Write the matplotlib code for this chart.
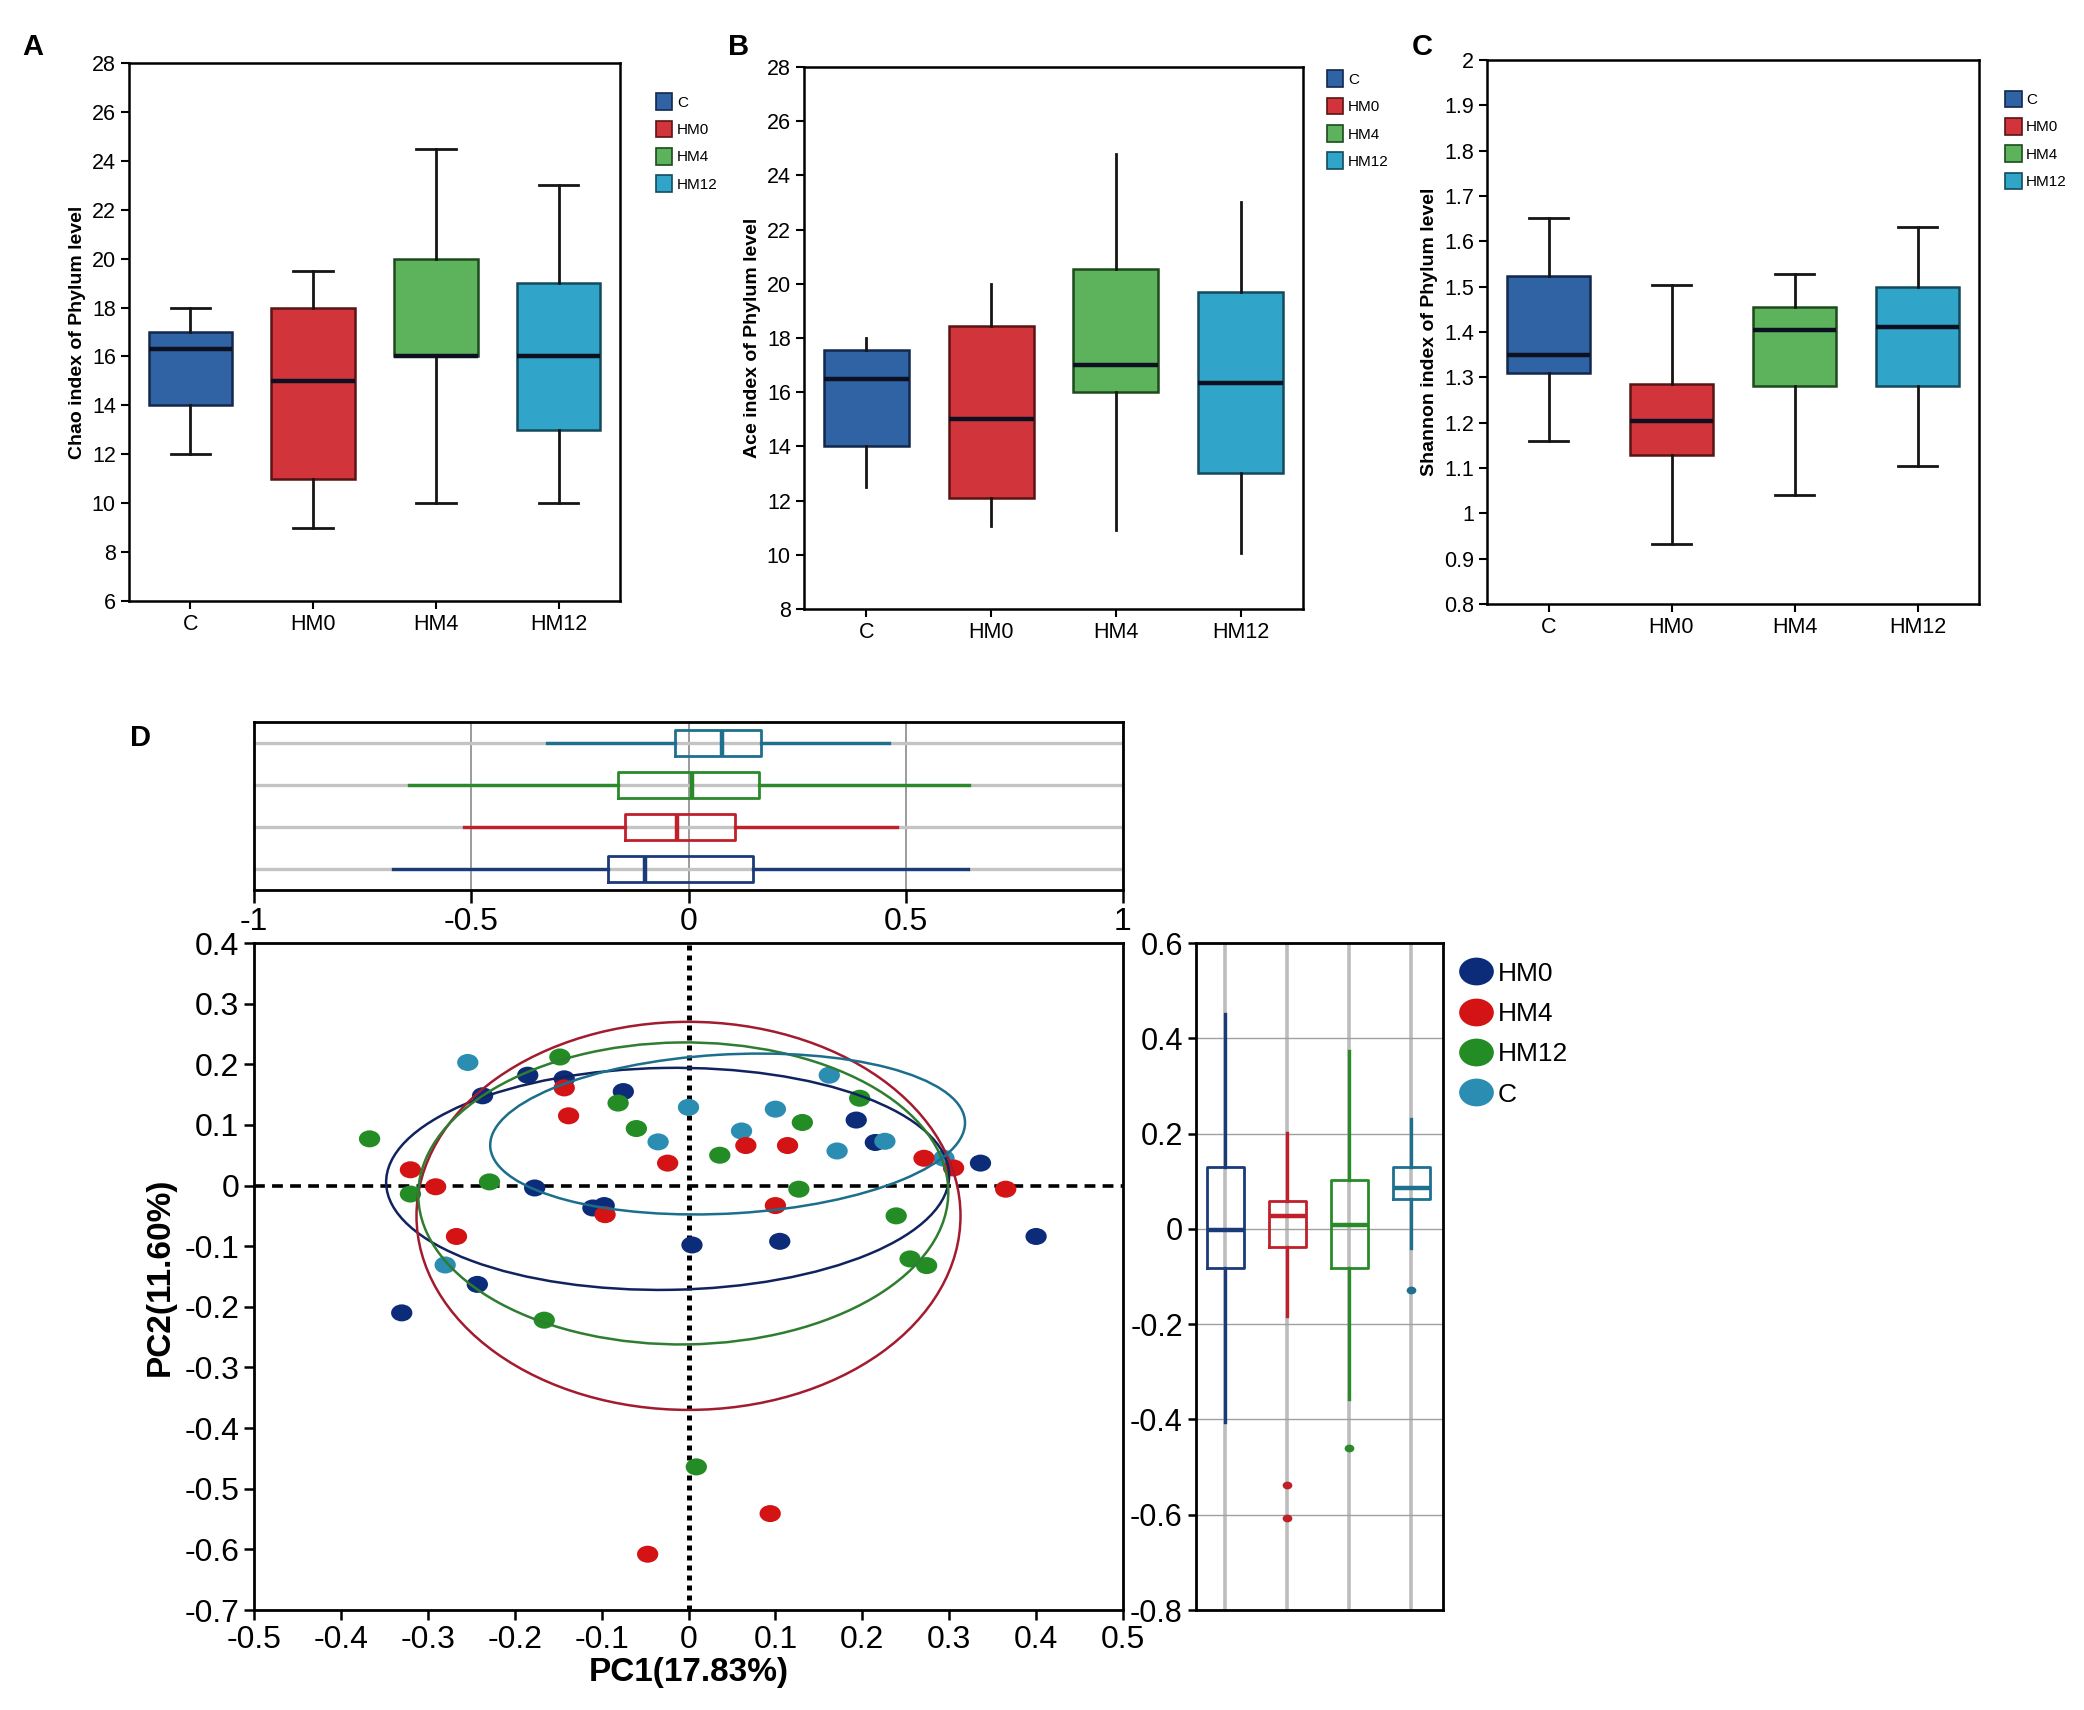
import matplotlib
matplotlib.use("Agg")
import matplotlib.pyplot as plt
from matplotlib.patches import Ellipse, Patch
from matplotlib.lines import Line2D
from matplotlib.path import Path
from matplotlib.ticker import FuncFormatter, MultipleLocator

plt.rcParams["font.family"] = ["Liberation Sans", "DejaVu Sans"]
plt.rcParams["axes.unicode_minus"] = False

# ---- panels A-C: alpha diversity boxplots ----
groups_abc = ["C", "HM0", "HM4", "HM12"]

chao_lo = [12.0, 9.0, 10.0, 10.0]
chao_q1 = [14.0, 11.0, 16.0, 13.0]
chao_med = [16.3, 15.0, 16.0, 16.0]
chao_q3 = [17.0, 18.0, 20.0, 19.0]
chao_hi = [18.0, 19.5, 24.5, 23.0]

ace_lo = [12.5, 11.05, 10.9, 10.05]
ace_q1 = [14.0, 12.1, 16.0, 13.0]
ace_med = [16.5, 15.0, 17.0, 16.35]
ace_q3 = [17.55, 18.45, 20.55, 19.7]
ace_hi = [18.0, 20.0, 24.8, 23.0]

shan_lo = [1.16, 0.933, 1.041, 1.105]
shan_q1 = [1.309, 1.129, 1.281, 1.281]
shan_med = [1.350, 1.203, 1.405, 1.411]
shan_q3 = [1.524, 1.286, 1.455, 1.499]
shan_hi = [1.651, 1.503, 1.529, 1.632]

# ---- panel D: PCA ----
groups_d = ["HM0", "HM4", "HM12", "C"]

hm0_x = [-0.185, -0.143, -0.237, -0.075, -0.177, -0.110, -0.097, 0.004, -0.243,
         -0.330, 0.193, 0.215, 0.336, 0.105, 0.400]
hm0_y = [0.182, 0.176, 0.148, 0.155, -0.004, -0.037, -0.033, -0.098, -0.163,
         -0.210, 0.108, 0.071, 0.037, -0.092, -0.084]
hm4_x = [-0.143, -0.138, -0.024, -0.320, -0.291, -0.096, -0.267, 0.066, 0.114,
         0.271, 0.305, 0.365, 0.100, 0.094, -0.047]
hm4_y = [0.161, 0.115, 0.037, 0.026, -0.002, -0.048, -0.084, 0.066, 0.066,
         0.045, 0.029, -0.006, -0.033, -0.541, -0.608]
hm12_x = [-0.148, -0.081, -0.060, -0.367, 0.036, -0.229, -0.320, -0.166, 0.197,
          0.131, 0.127, 0.239, 0.255, 0.274, 0.009]
hm12_y = [0.212, 0.136, 0.094, 0.077, 0.050, 0.006, -0.014, -0.222, 0.144,
          0.104, -0.006, -0.050, -0.121, -0.132, -0.464]
c_x = [-0.254, 0.000, -0.035, -0.280, 0.162, 0.100, 0.061, 0.171, 0.226, 0.294]
c_y = [0.203, 0.129, 0.072, -0.131, 0.182, 0.126, 0.090, 0.057, 0.073, 0.045]

# confidence ellipses: centre x, centre y, width, height, angle
ell_cx = [-0.024, 0.000, -0.006, 0.045]
ell_cy = [0.011, -0.050, -0.013, 0.085]
ell_w = [0.648, 0.626, 0.610, 0.548]
ell_h = [0.366, 0.640, 0.498, 0.262]
ell_ang = [1.4, 0.0, 1.2, 5.0]

# marginal box stats on PC1 (top)
pc1_lo = [-0.679, -0.516, -0.643, -0.325]
pc1_q1 = [-0.185, -0.145, -0.162, -0.031]
pc1_med = [-0.099, -0.027, 0.009, 0.076]
pc1_q3 = [0.148, 0.107, 0.163, 0.168]
pc1_hi = [0.644, 0.479, 0.646, 0.461]

# marginal box stats on PC2 (right)
pc2_lo = [-0.405, -0.182, -0.357, -0.040]
pc2_q1 = [-0.083, -0.038, -0.083, 0.063]
pc2_med = [-0.003, 0.027, 0.008, 0.085]
pc2_q3 = [0.130, 0.059, 0.102, 0.130]
pc2_hi = [0.451, 0.201, 0.374, 0.230]
pc2_fliers = [[], [-0.538, -0.606], [-0.461], [-0.129]]

fill_abc = ["#2f63a3", "#d1343a", "#5db35c", "#31a5c9"]
edge_abc = ["#12284d", "#5a1414", "#1d4a1d", "#144a5c"]
pt_col = ["#0c2c7a", "#d41414", "#238c25", "#2b8db2"]
ell_col = ["#11235f", "#a31b2e", "#2f7d30", "#1b6e8c"]
box_col = ["#1b3a78", "#c0202a", "#2a8a2a", "#1f6f8f"]

W, H = 2084, 1710
fig = plt.figure(figsize=(W / 100, H / 100), dpi=100)


def fmt(v, _):
    return f"{round(v, 2) + 0.0:g}"


def abc_panel(rect, lo, q1, med, q3, hi, ylim, ystep, ylabel, caps, leg_anchor):
    ax = fig.add_axes(rect)
    st = [dict(whislo=a, q1=b, med=c, q3=d, whishi=e, fliers=[])
          for a, b, c, d, e in zip(lo, q1, med, q3, hi)]
    bp = ax.bxp(st, positions=[1, 2, 3, 4], widths=0.68, patch_artist=True,
                showcaps=caps, capwidths=0.32, showfliers=False,
                boxprops=dict(linewidth=1.8),
                whiskerprops=dict(color="#151515", linewidth=2.0),
                capprops=dict(color="#151515", linewidth=2.0),
                medianprops=dict(color="#0d1020", linewidth=3.2))
    for box, fc, ec in zip(bp["boxes"], fill_abc, edge_abc):
        box.set_facecolor(fc)
        box.set_edgecolor(ec)
    ax.set_xlim(0.5, 4.5)
    ax.set_ylim(*ylim)
    ax.yaxis.set_major_locator(MultipleLocator(ystep))
    ax.yaxis.set_major_formatter(FuncFormatter(fmt))
    ax.set_xticks([1, 2, 3, 4], groups_abc)
    ax.tick_params(labelsize=15.5, length=6, width=1.5, direction="out")
    for s in ax.spines.values():
        s.set_linewidth(1.8)
    ax.set_ylabel(ylabel, fontsize=14, fontweight="bold", labelpad=4)
    handles = [Patch(facecolor=f, edgecolor=e, linewidth=1.2) for f, e in zip(fill_abc, edge_abc)]
    ax.legend(handles, groups_abc, loc="upper left", bbox_to_anchor=leg_anchor,
              frameon=False, fontsize=11, handlelength=1.1, handleheight=1.3,
              handletextpad=0.3, labelspacing=0.7, borderaxespad=0)
    return ax


abc_panel([129 / W, 1 - 601 / H, 491 / W, 538 / H], chao_lo, chao_q1, chao_med,
          chao_q3, chao_hi, (6, 28), 2, "Chao index of Phylum level", True, (1.06, 0.955))
abc_panel([804 / W, 1 - 609 / H, 499 / W, 542 / H], ace_lo, ace_q1, ace_med,
          ace_q3, ace_hi, (8, 28), 2, "Ace index of Phylum level", False, (1.035, 1.005))
abc_panel([1487 / W, 1 - 604 / H, 492 / W, 544 / H], shan_lo, shan_q1, shan_med,
          shan_q3, shan_hi, (0.8, 2.0), 0.1, "Shannon index of Phylum level", True, (1.04, 0.955))

for lab, x, y in [("A", 22, 47), ("B", 728, 47), ("C", 1412, 47), ("D", 130, 738)]:
    fig.text(x / W, 1 - y / H, lab, fontsize=21, fontweight="bold", va="center")

# ---- scatter ----
ax_sc = fig.add_axes([254 / W, 1 - 1610 / H, 869 / W, 667 / H])
circ = Path.unit_circle()
oval = Path(circ.vertices * [1.25, 1.0], circ.codes)

series = {"HM0": (hm0_x, hm0_y), "HM4": (hm4_x, hm4_y),
          "HM12": (hm12_x, hm12_y), "C": (c_x, c_y)}
for i, g in enumerate(["HM0", "HM12", "C", "HM4"]):
    k = groups_d.index(g)
    xs, ys = series[g]
    ax_sc.scatter(xs, ys, s=235, marker=oval, color=pt_col[k], edgecolors="none", zorder=3 + i * 0.1)
for k in range(4):
    ax_sc.add_patch(Ellipse((ell_cx[k], ell_cy[k]), ell_w[k], ell_h[k], angle=ell_ang[k],
                            fill=False, edgecolor=ell_col[k], linewidth=1.8, zorder=4))
ax_sc.axhline(0, color="black", linestyle=(0, (3, 2)), linewidth=2.6, zorder=2)
ax_sc.axvline(0, color="black", linestyle=(0, (1, 1)), linewidth=3.6, zorder=2)
ax_sc.set_xlim(-0.5, 0.5)
ax_sc.set_ylim(-0.7, 0.4)
ax_sc.xaxis.set_major_locator(MultipleLocator(0.1))
ax_sc.yaxis.set_major_locator(MultipleLocator(0.1))
ax_sc.xaxis.set_major_formatter(FuncFormatter(fmt))
ax_sc.yaxis.set_major_formatter(FuncFormatter(fmt))
ax_sc.tick_params(labelsize=23, length=7, width=1.8)
for s in ax_sc.spines.values():
    s.set_linewidth(2)
ax_sc.set_xlabel("PC1(17.83%)", fontsize=24, fontweight="bold", labelpad=2)
ax_sc.set_ylabel("PC2(11.60%)", fontsize=24, fontweight="bold", labelpad=6)

# ---- top marginal box (PC1) ----
ax_top = fig.add_axes([254 / W, 1 - 890 / H, 869 / W, 168 / H])
st = [dict(whislo=a, q1=b, med=c, q3=d, whishi=e, fliers=[])
      for a, b, c, d, e in zip(pc1_lo, pc1_q1, pc1_med, pc1_q3, pc1_hi)]
bp = ax_top.bxp(st, positions=[1, 2, 3, 4], widths=0.63, orientation="horizontal",
                showcaps=False, showfliers=False,
                boxprops=dict(linewidth=2), whiskerprops=dict(linewidth=2.4),
                medianprops=dict(linewidth=3.2))
for i, col in enumerate(box_col):
    bp["boxes"][i].set_color(col)
    bp["medians"][i].set_color(col)
    bp["whiskers"][2 * i].set_color(col)
    bp["whiskers"][2 * i + 1].set_color(col)
ax_top.set_xlim(-1, 1)
ax_top.set_ylim(0.5, 4.5)
ax_top.set_xticks([-1, -0.5, 0, 0.5, 1])
ax_top.xaxis.set_major_formatter(FuncFormatter(fmt))
ax_top.set_yticks([1, 2, 3, 4])
ax_top.set_yticklabels([])
ax_top.tick_params(axis="y", length=0)
ax_top.tick_params(axis="x", labelsize=23, length=9, width=1.8)
ax_top.set_axisbelow(True)
ax_top.xaxis.grid(True, color="#8a8a8a", linewidth=1.2)
ax_top.yaxis.grid(True, color="#c4c4c4", linewidth=2.4)
for s in ax_top.spines.values():
    s.set_linewidth(2)

# ---- right marginal box (PC2) ----
ax_rb = fig.add_axes([1196 / W, 1 - 1610 / H, 247 / W, 667 / H])
st = [dict(whislo=a, q1=b, med=c, q3=d, whishi=e, fliers=f)
      for a, b, c, d, e, f in zip(pc2_lo, pc2_q1, pc2_med, pc2_q3, pc2_hi, pc2_fliers)]
bp = ax_rb.bxp(st, positions=[1, 2, 3, 4], widths=0.6, showcaps=False,
               boxprops=dict(linewidth=2), whiskerprops=dict(linewidth=2.4),
               medianprops=dict(linewidth=3.2),
               flierprops=dict(marker=oval, markersize=7, markeredgewidth=0))
for i, col in enumerate(box_col):
    bp["boxes"][i].set_color(col)
    bp["medians"][i].set_color(col)
    bp["whiskers"][2 * i].set_color(col)
    bp["whiskers"][2 * i + 1].set_color(col)
    bp["fliers"][i].set_markerfacecolor(col)
ax_rb.set_xlim(0.53, 4.51)
ax_rb.set_ylim(-0.8, 0.6)
ax_rb.yaxis.set_major_locator(MultipleLocator(0.2))
ax_rb.yaxis.set_major_formatter(FuncFormatter(fmt))
ax_rb.set_xticks([1, 2, 3, 4])
ax_rb.set_xticklabels([])
ax_rb.tick_params(axis="x", length=0)
ax_rb.tick_params(axis="y", labelsize=22, length=6, width=1.8)
ax_rb.set_axisbelow(True)
ax_rb.xaxis.grid(True, color="#bdbdbd", linewidth=2.6)
ax_rb.yaxis.grid(True, color="#a0a0a0", linewidth=1.0)
for s in ax_rb.spines.values():
    s.set_linewidth(2)

handles = [Line2D([], [], linestyle="none", marker=oval, markersize=25,
                  markerfacecolor=c, markeredgewidth=0) for c in pt_col]
ax_rb.legend(handles, groups_d, loc="upper left", bbox_to_anchor=(1.025, 0.988),
             frameon=False, fontsize=19, handletextpad=0.25, labelspacing=0.62,
             borderaxespad=0, handlelength=1.2)

fig.savefig("out.png", dpi=100)
